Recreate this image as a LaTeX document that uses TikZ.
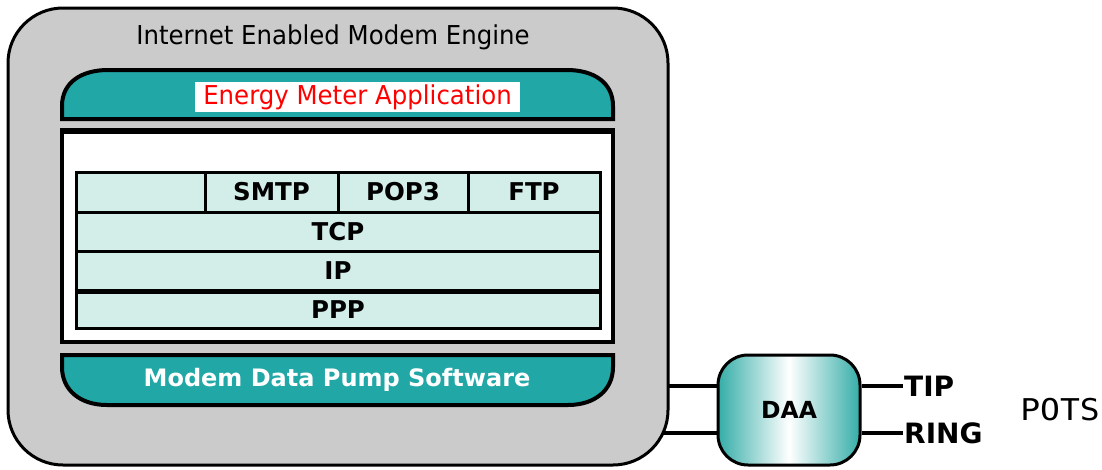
\documentclass[tikz,border=0pt]{standalone}
\usepackage{fontspec}
\setmainfont{DejaVu Sans}
\newfontfamily\potsfont[FakeStretch=1.1]{DejaVu Sans Mono}
\newfontfamily\condfont[FakeStretch=0.94]{DejaVu Sans}
\usetikzlibrary{backgrounds}
\definecolor{boxgray}{HTML}{CBCBCB}
\definecolor{tealband}{HTML}{22A7A7}
\definecolor{cellfill}{HTML}{D3EDE8}
\definecolor{daaedge}{HTML}{35ADA8}
\definecolor{apptext}{HTML}{FF0000}
\tikzset{
  engine/.style={draw, line width=3pt, fill=boxgray, rounded corners=55pt,
    minimum width=660pt, minimum height=457pt, inner sep=0pt},
  bigtext/.style={font=\condfont\fontsize{26}{26}\selectfont, inner sep=0pt},
  band/.style={draw, line width=4pt, fill=tealband},
  cellbox/.style={draw, fill=cellfill, line width=3pt, inner sep=0pt,
    font=\bfseries\fontsize{24.5}{24.5}\selectfont},
  daabox/.style={draw, line width=3pt, rounded corners=30pt,
    left color=daaedge, right color=daaedge, middle color=white,
    minimum width=142pt, minimum height=110pt, inner sep=0pt,
    font=\bfseries\fontsize{23.5}{23.5}\selectfont},
  wire/.style={line width=4pt},
  termtext/.style={font=\bfseries\fontsize{28}{28}\selectfont, inner sep=1pt, anchor=west},
}
\begin{document}
\begin{tikzpicture}[x=1pt,y=-1pt]
\useasboundingbox (0,0) rectangle (1102,469);
% outer engine box
\node[engine] (engine) at (338,236.5) {};
\node[bigtext] (title) at (333,37) {Internet Enabled Modem Engine};
% application band
\draw[band] (62,119) -- (62,106) .. controls (62,82) and (82,70) .. (108,70)
  -- (567,70) .. controls (593,70) and (613,82) .. (613,106) -- (613,119) -- cycle;
\node[bigtext, fill=white, text=apptext, minimum width=325pt, minimum height=30pt] (app) at (357.5,97) {Energy Meter Application};
% protocol stack frame
\draw[line width=4pt, fill=white] (62,131) rectangle (613,342);
\draw[line width=6pt] (60,131) -- (615,131);
% protocol cells
\node[cellbox, minimum width=129pt, minimum height=40pt] (blank) at (140.5,192) {};
\node[cellbox, minimum width=133pt, minimum height=40pt] (smtp) at (271.5,192) {SMTP};
\node[cellbox, minimum width=130pt, minimum height=40pt] (pop) at (403,192) {POP3};
\node[cellbox, minimum width=132pt, minimum height=40pt] (ftp) at (534,192) {FTP};
\node[cellbox, minimum width=524pt, minimum height=39pt] (tcp) at (338,231.5) {TCP};
\node[cellbox, minimum width=524pt, minimum height=39pt] (ip) at (338,270.5) {IP};
\node[cellbox, minimum width=524pt, minimum height=38pt] (ppp) at (338,309.5) {PPP};
\draw[line width=5pt] (ip.south west) -- (ip.south east);
% modem data pump band
\draw[band] (62,355) -- (613,355) -- (613,367) .. controls (613,390) and (595,405) .. (568,405)
  -- (107,405) .. controls (80,405) and (62,390) .. (62,367) -- cycle;
\node[inner sep=0pt, font=\bfseries\fontsize{24}{24}\selectfont, text=white] (mdp) at (337,380) {Modem Data Pump Software};
% DAA
\node[daabox] (daa) at (789,410) {\raisebox{-8pt}{DAA}};
\node[termtext] (tip) at (903,386) {TIP};
\node[termtext] (ring) at (903,433) {RING};
\node[font=\potsfont\fontsize{30}{30}\selectfont, inner sep=0pt] (pots) at (1060,410) {POTS};
\begin{scope}[on background layer]
\draw[wire] ([xshift=-12pt]engine.east |- tip.west) -- (daa.west |- tip.west);
\draw[wire] ([xshift=-12pt]engine.east |- ring.west) -- (daa.west |- ring.west);
\draw[wire] (daa.east |- tip.west) -- (tip.west);
\draw[wire] (daa.east |- ring.west) -- (ring.west);
\end{scope}
\end{tikzpicture}
\end{document}
